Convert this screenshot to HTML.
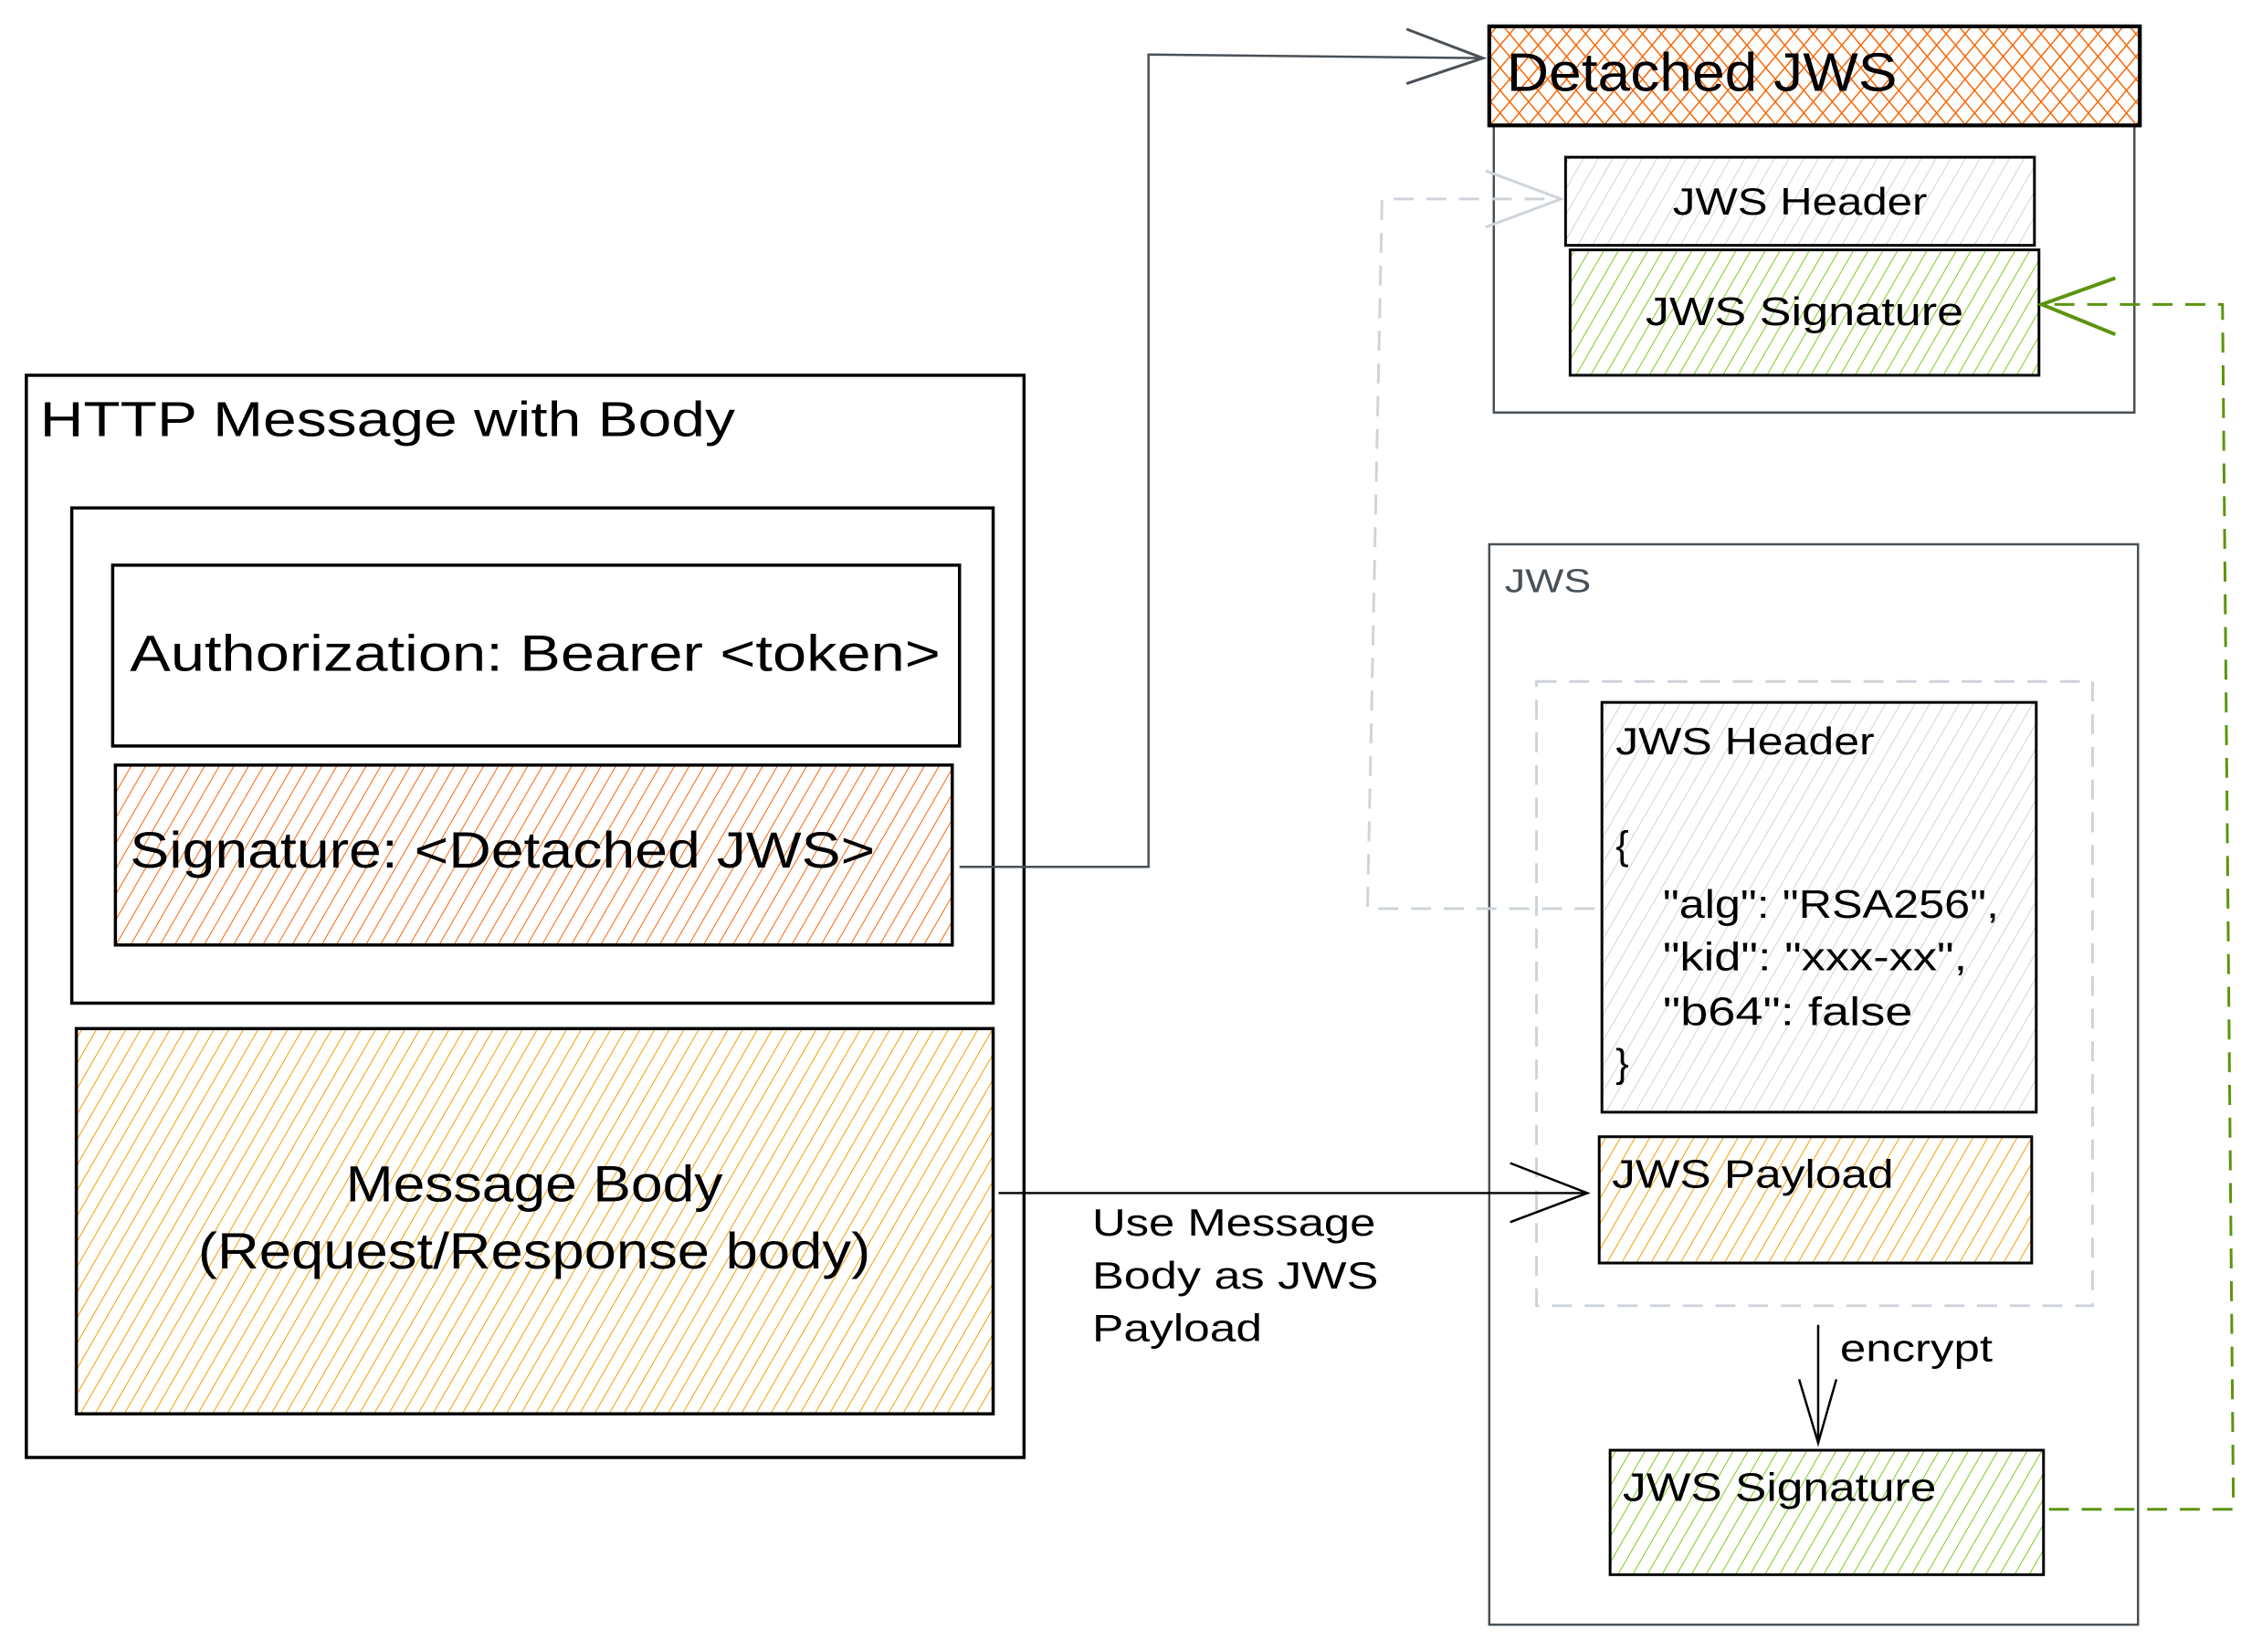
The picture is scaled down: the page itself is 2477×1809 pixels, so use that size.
<!DOCTYPE html>
<html><head><meta charset="utf-8"><style>
html,body{margin:0;padding:0;background:#fff;}
svg{display:block;}
text{font-family:"Liberation Sans",sans-serif;fill:#000;}
</style></head><body>
<svg width="2477" height="1809" viewBox="0 0 2477 1809" xmlns="http://www.w3.org/2000/svg">
<defs>
<pattern id="po" width="14" height="14" patternUnits="userSpaceOnUse" patternTransform="rotate(30)"><line x1="0" y1="0" x2="0" y2="14" stroke="#f76707" stroke-width="2"/></pattern>
<pattern id="py" width="14" height="14" patternUnits="userSpaceOnUse" patternTransform="rotate(30)"><line x1="0" y1="0" x2="0" y2="14" stroke="#f59f00" stroke-width="2"/></pattern>
<pattern id="pg" width="14" height="14" patternUnits="userSpaceOnUse" patternTransform="rotate(30)"><line x1="0" y1="0" x2="0" y2="14" stroke="#82c91e" stroke-width="2"/></pattern>
<pattern id="pgr" width="14" height="14" patternUnits="userSpaceOnUse" patternTransform="rotate(30)"><line x1="0" y1="0" x2="0" y2="14" stroke="#ced4da" stroke-width="2"/></pattern>
<pattern id="pc1" width="16" height="16" patternUnits="userSpaceOnUse" patternTransform="rotate(40)"><line x1="0" y1="0" x2="0" y2="16" stroke="#f76707" stroke-width="3"/></pattern>
<pattern id="pc2" width="16" height="16" patternUnits="userSpaceOnUse" patternTransform="rotate(-40)"><line x1="0" y1="0" x2="0" y2="16" stroke="#f76707" stroke-width="3"/></pattern>
</defs>
<g transform="scale(0.995)">
<!-- HTTP message box -->
<rect x="29" y="413" width="1098" height="1191" fill="none" stroke="#000" stroke-width="3.5"/>
<text x="44" y="480" font-size="54" textLength="765" lengthAdjust="spacingAndGlyphs">HTTP Message with Body</text>
<rect x="79" y="559" width="1014" height="545" fill="none" stroke="#000" stroke-width="3.5"/>
<rect x="124" y="622" width="932" height="199" fill="#fff" stroke="#000" stroke-width="3.5"/>
<text x="143" y="738" font-size="56" textLength="892" lengthAdjust="spacingAndGlyphs">Authorization: Bearer &lt;token&gt;</text>
<rect x="127" y="842" width="921" height="198" fill="url(#po)" stroke="#000" stroke-width="3.5"/>
<text x="143" y="955" font-size="56" textLength="820" lengthAdjust="spacingAndGlyphs">Signature: &lt;Detached JWS&gt;</text>
<rect x="84" y="1132" width="1009" height="424" fill="url(#py)" stroke="#000" stroke-width="3.5"/>
<text x="588" y="1322" font-size="56" text-anchor="middle" textLength="415" lengthAdjust="spacingAndGlyphs">Message Body</text>
<text x="588" y="1396" font-size="56" text-anchor="middle" textLength="740" lengthAdjust="spacingAndGlyphs">(Request/Response body)</text>

<polyline points="1056,954 1264,954 1264,60 1632,64" fill="none" stroke="#495057" stroke-width="2.5"/>
<polyline points="1548,32 1632,64 1548,92" fill="none" stroke="#495057" stroke-width="3"/>

<rect x="1644" y="138" width="705" height="316" fill="none" stroke="#495057" stroke-width="2.5"/>
<rect x="1639" y="29" width="716" height="109" fill="url(#pc1)" stroke="#000" stroke-width="4"/>
<rect x="1639" y="29" width="716" height="109" fill="url(#pc2)" stroke="#000" stroke-width="4"/>
<text x="1658" y="100" font-size="60" textLength="430" lengthAdjust="spacingAndGlyphs">Detached JWS</text>
<rect x="1723" y="173" width="516" height="97" fill="url(#pgr)" stroke="#000" stroke-width="3"/>
<text x="1981" y="236" font-size="42" text-anchor="middle" textLength="280" lengthAdjust="spacingAndGlyphs">JWS Header</text>
<rect x="1728" y="275" width="516" height="138" fill="url(#pg)" stroke="#000" stroke-width="3"/>
<text x="1986" y="358" font-size="44" text-anchor="middle" textLength="350" lengthAdjust="spacingAndGlyphs">JWS Signature</text>

<rect x="1639" y="599" width="714" height="1189" fill="none" stroke="#495057" stroke-width="2.5"/>
<text x="1656" y="652" font-size="36" style="fill:#495057" textLength="95" lengthAdjust="spacingAndGlyphs">JWS</text>
<rect x="1691" y="750" width="612" height="687" fill="none" stroke="#ced4da" stroke-width="3" stroke-dasharray="22,14"/>
<rect x="1763" y="773" width="478" height="451" fill="url(#pgr)" stroke="#000" stroke-width="3"/>
<text x="1778" y="830" font-size="42" textLength="285" lengthAdjust="spacingAndGlyphs">JWS Header</text>
<text x="1778" y="945" font-size="44">{</text>
<text x="1830" y="1010" font-size="44" textLength="370" lengthAdjust="spacingAndGlyphs">"alg": "RSA256",</text>
<text x="1830" y="1068" font-size="44" textLength="335" lengthAdjust="spacingAndGlyphs">"kid": "xxx-xx",</text>
<text x="1830" y="1128" font-size="44" textLength="275" lengthAdjust="spacingAndGlyphs">"b64": false</text>
<text x="1778" y="1185" font-size="44">}</text>
<rect x="1760" y="1251" width="476" height="139" fill="url(#py)" stroke="#000" stroke-width="3"/>
<text x="1774" y="1307" font-size="44" textLength="310" lengthAdjust="spacingAndGlyphs">JWS Payload</text>
<rect x="1772" y="1596" width="477" height="137" fill="url(#pg)" stroke="#000" stroke-width="3"/>
<text x="1786" y="1652" font-size="44" textLength="345" lengthAdjust="spacingAndGlyphs">JWS Signature</text>

<line x1="2001" y1="1458" x2="2001" y2="1585" stroke="#000" stroke-width="2.5"/>
<polyline points="1980,1518 2001,1588 2021,1518" fill="none" stroke="#000" stroke-width="2.5"/>
<text x="2025" y="1498" font-size="42" textLength="168" lengthAdjust="spacingAndGlyphs">encrypt</text>

<line x1="1099" y1="1313" x2="1747" y2="1313" stroke="#000" stroke-width="2.5"/>
<polyline points="1662,1280 1747,1313 1662,1345" fill="none" stroke="#000" stroke-width="2.5"/>
<text x="1202" y="1360" font-size="42" textLength="312" lengthAdjust="spacingAndGlyphs">Use Message</text>
<text x="1202" y="1418" font-size="42" textLength="315" lengthAdjust="spacingAndGlyphs">Body as JWS</text>
<text x="1202" y="1476" font-size="42" textLength="187" lengthAdjust="spacingAndGlyphs">Payload</text>

<polyline points="1755,1000 1505,1000 1521,219 1718,219" fill="none" stroke="#ced4da" stroke-width="3" stroke-dasharray="22,14"/>
<polyline points="1635,188 1718,219 1635,250" fill="none" stroke="#ced4da" stroke-width="3"/>

<polyline points="2255,1661 2458,1661 2446,335 2247,335" fill="none" stroke="#5c940d" stroke-width="3" stroke-dasharray="22,14"/>
<polyline points="2328,306 2247,335 2328,368" fill="none" stroke="#5c940d" stroke-width="4"/>
</g>
</svg>
</body></html>
